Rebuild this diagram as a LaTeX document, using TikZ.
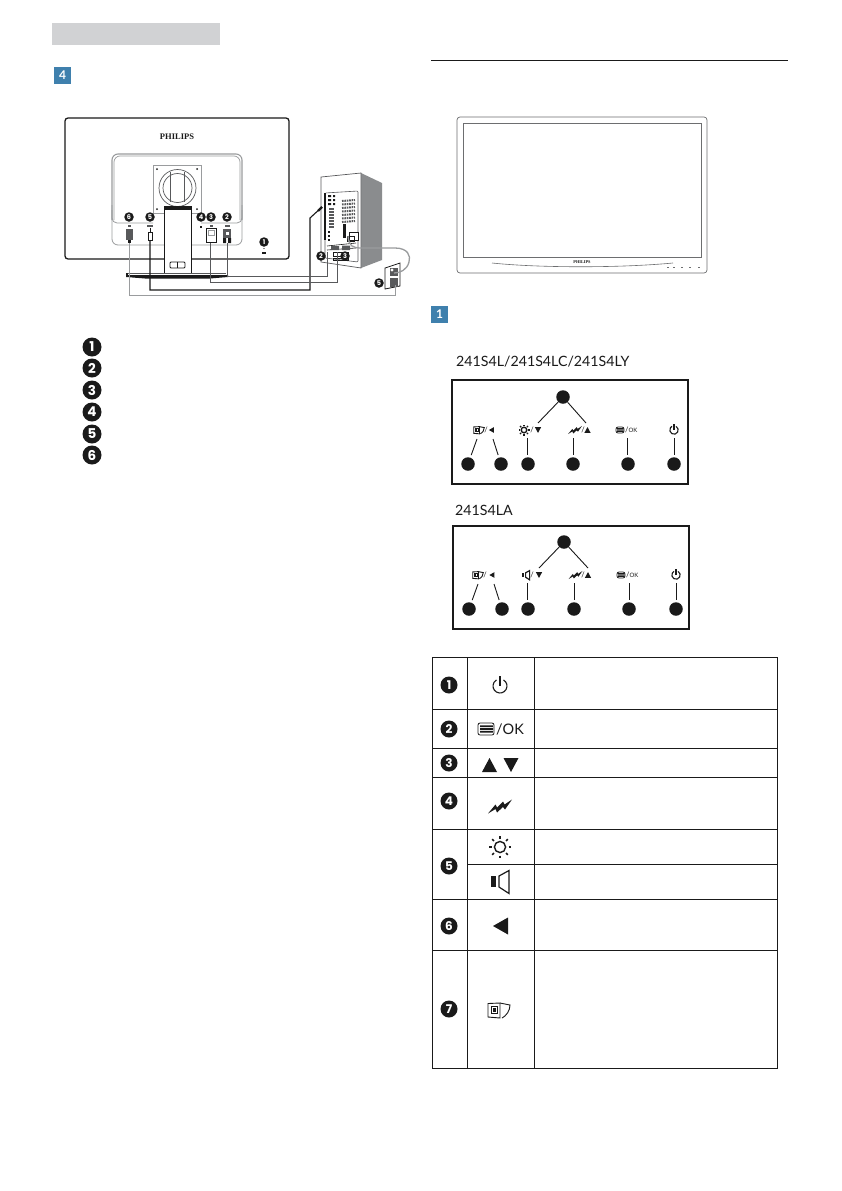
\documentclass[tikz,border=0pt]{standalone}
\usepackage{fontspec}
\setmainfont{Lato}
\newfontfamily\numf{Poppins}
\newfontfamily\logof{Liberation Serif}
\definecolor{ink}{HTML}{1A1A1A}
\definecolor{barg}{HTML}{D1D2D4}
\definecolor{blu}{HTML}{3F80AD}
\definecolor{side}{HTML}{8A8C8E}
\definecolor{pale}{HTML}{9A9C9E}
\definecolor{mid}{HTML}{58595B}
\definecolor{frame}{HTML}{6D6E70}
\tikzset{
 numdot/.style={circle,fill=ink,text=white,inner sep=0pt,minimum size=9.5pt,font=\numf\fontsize{6.5}{6.5}\selectfont\bfseries},
 numdotM/.style={numdot,minimum size=17pt,font=\numf\fontsize{12}{12}\selectfont\bfseries},
 numdotL/.style={numdot,minimum size=19pt,font=\numf\fontsize{13.5}{13.5}\selectfont\bfseries},
 blank/.style={circle,fill=ink,inner sep=0pt,minimum size=13.5pt},
 bluebox/.style={fill=blu,text=white,inner sep=0pt,minimum size=17pt,font=\fontsize{12}{12}\selectfont\bfseries},
 title/.style={anchor=west,inner sep=0pt,font=\fontsize{14.2}{16}\selectfont,text=ink},
 grid/.style={draw=ink,line width=.9pt},
 keybox/.style={draw=ink,line width=2.2pt},
 lead/.style={draw=ink,line width=.9pt},
 gline/.style={draw=pale,line width=.8pt},
 dline/.style={draw=ink,line width=.8pt},
 cable/.style={line width=1pt},
 smalltxt/.style={inner sep=0pt,font=\fontsize{7.5}{8}\selectfont,text=ink},
}
\newcommand{\icpower}[3]{\begin{scope}[shift={(#1,#2)},scale=#3]
 \draw[ink,line width=1.1pt] (-60:7) arc[start angle=-60,end angle=240,radius=7];
 \draw[ink,line width=1.3pt] (0,-10) -- (0,0);
\end{scope}}
\newcommand{\icmenu}[3]{\begin{scope}[shift={(#1,#2)},scale=#3]
 \draw[ink,line width=.8pt,rounded corners=2pt,fill=white] (-8,-6) rectangle (8,6);
 \fill[ink] (-6,-3.6) rectangle (7,-1.8) (-6,-.9) rectangle (7,.9) (-6,1.8) rectangle (7,3.6);
\end{scope}}
\newcommand{\icup}[3]{\fill[ink,shift={(#1,#2)},scale=#3] (0,-7) -- (7.5,7) -- (-7.5,7) -- cycle;}
\newcommand{\icdown}[3]{\fill[ink,shift={(#1,#2)},scale=#3] (0,7) -- (7.5,-7) -- (-7.5,-7) -- cycle;}
\newcommand{\icleft}[3]{\fill[ink,shift={(#1,#2)},scale=#3] (-8,0) -- (7,-8.5) -- (7,8.5) -- cycle;}
\newcommand{\icbolt}[3]{\fill[ink,shift={(#1,#2)},scale=#3] (-12,7) -- (-4.5,-2) -- (-3,1) -- (3,-5) -- (4.5,-2) -- (12,-7) -- (5,3) -- (3,.5) -- (-3,6) -- (-4.5,2.5) -- cycle;}
\newcommand{\icsun}[3]{\begin{scope}[shift={(#1,#2)},scale=#3]
 \draw[ink,line width=1.4pt] (0,0) circle[radius=5.6];
 \foreach \a in {0,45,...,315}{\draw[ink,line width=1.5pt] (\a:8.5) -- (\a:11);}
\end{scope}}
\newcommand{\icspeak}[3]{\begin{scope}[shift={(#1,#2)},scale=#3]
 \fill[ink] (-9,-5.5) rectangle (-4,5.5);
 \draw[ink,line width=1.2pt] (-1,-5.5) -- (9,-11) -- (9,12) -- (-1,5.5) -- cycle;
\end{scope}}
\newcommand{\icsmart}[3]{\begin{scope}[shift={(#1,#2)},scale=#3]
 \draw[ink,line width=.9pt] (-11,-6.5) -- (1,-7) -- (1,8) -- (-11,7) -- cycle;
 \draw[ink,line width=.8pt] (-8,-4) rectangle (-2,3);
 \fill[ink] (-6.5,-2.5) rectangle (-3.5,1.5);
 \draw[ink,line width=.9pt] (1,-7) -- (11,-5) .. controls (11,1) and (7,6) .. (3,8);
\end{scope}}
\begin{document}
\begin{tikzpicture}[x=1pt,y=-1pt]
\useasboundingbox (0,0) rectangle (842,1191);
\fill[white] (0,0) rectangle (842,1191);
% header
\fill[barg] (52,23) rectangle (220,45);
\node[bluebox] (sq4) at (62.5,75.5) {4};
\draw[ink,line width=.9pt] (431,60) -- (788,60);
% monitor back
\draw[ink,line width=1.3pt,rounded corners=3pt] (65,118) rectangle (289,259);
\node[inner sep=0pt,font=\logof\fontsize{8.5}{9}\selectfont\bfseries,text=ink] (brand) at (177,137) {PHILIPS};
\draw[pale,line width=1.1pt,rounded corners=6pt] (112,220) -- (112,154) -- (242,154) -- (242,220);
\draw[pale,line width=.7pt,rounded corners=6pt] (114,220) -- (114,156) -- (240,156) -- (240,220);
\draw[gline,rounded corners=6pt] (112,205) -- (112,245) -- (242,245) -- (242,205);
\draw[gline,rounded corners=5pt] (112,210) -- (112,223) -- (153,223);
\draw[gline,rounded corners=5pt] (242,210) -- (242,223) -- (201,223);
\draw[gline] (153,165) rectangle (201,213);
\foreach \p in {(157,169),(197,169),(157,209),(197,209)}{\fill[ink] \p circle[radius=1];}
\draw[mid,line width=.7pt] (177.5,188) circle[radius=18.5] (177.5,188) circle[radius=14.5];
\draw[mid,line width=.7pt] (170,172) -- (170,202) (184,172) -- (184,202);
\fill[white] (164,206) rectangle (191,273);
\draw[ink,line width=.9pt] (164,206) -- (164,273) (191,206) -- (191,273);
\fill[ink] (164,206) rectangle (191,209.5);
\draw[dline,rounded corners=1pt] (170,262) rectangle (185,268);
\draw[dline] (177.5,262) -- (177.5,268);
\draw[mid,line width=.7pt] (128,273.5) -- (226,273.5);
\fill[ink] (126,275) -- (228,275) -- (228,277) -- (210,278.5) -- (145,278.5) -- (126,277) -- cycle;
\fill[ink] (126,272.5) rectangle (128,277);
\node[numdot] (m6) at (129,217) {6};
\node[numdot] (m5) at (150,217) {5};
\node[numdot] (m4) at (201,217) {4};
\node[numdot] (m3) at (211,217) {3};
\node[numdot] (m2) at (227,217) {2};
\node[numdot] (m1) at (264,242) {1};
\fill[ink] (200,225.5) rectangle (202,227.5);
\fill[ink] (264,248.5) circle[radius=.7];
\draw[dline] (262.5,252) rectangle (265.5,253);
\foreach \x/\w in {129/1.5,150/3,211/1.5,227/2.5}{\fill[mid] (\x-\w,225) rectangle (\x+\w,226.5);}
% connectors on the monitor
\fill[mid] (126,229) rectangle (133,240);
\fill[ink] (128,240) rectangle (131,243);
\draw[dline,fill=white] (148,232) rectangle (152,240);
\draw[dline] (150,228) -- (150,232);
\draw[dline,fill=white] (206,228) rectangle (216,242);
\draw[pale,line width=.7pt] (208,230) rectangle (214,235);
\fill[mid] (223,229) rectangle (231,238);
\fill[ink] (223,238) rectangle (226,243) (228,238) rectangle (231,243);
\fill[white] (225.5,232) rectangle (228.5,235);
\coordinate (c6) at (129,243);
\coordinate (c5) at (150,240);
\coordinate (c3) at (210,243);
\coordinate (c2) at (227,243);
% PC
\fill[side] (361,173) -- (382,183) -- (382,260) -- (361,268) -- cycle;
\draw[mid,line width=.7pt,fill=white] (321,177) -- (361,173) -- (361,268) -- (321,262) -- cycle;
\draw[mid,line width=.6pt,rounded corners=1pt] (325,193) -- (358,191) -- (358,262) -- (325,258) -- cycle;
\draw[ink,line width=1.2pt] (325,193) -- (325,240);
\foreach \y in {195,199,203}{\fill[ink] (328,\y) rectangle (331,\y+2) (333,\y) rectangle (335,\y+2);}
\foreach \y in {208,211,...,226}{\fill[mid] (329,\y) rectangle (334,\y+1.5);}
\foreach \y in {231,235,239}{\fill[ink] (328,\y) rectangle (330,\y+2);}
\foreach \y in {201,204.5,...,222}{\draw[mid,line width=2pt,dash pattern=on 1.6pt off .8pt] (342,\y) -- (355,\y-1);}
\fill[ink] (343,224) rectangle (346,238);
\draw[ink,line width=.8pt,fill=white] (349,232) rectangle (358,240);
\draw[ink,line width=.6pt] (347,236) rectangle (354,241);
\draw[ink,line width=.6pt] (327,246) -- (356,243) (327,250) -- (356,248);
\fill[mid] (331,246) rectangle (339,250) (342,245.5) rectangle (350,250);
\draw[ink,line width=.6pt] (333,252) rectangle (348,256) (333,258) rectangle (348,260);
\node[numdot] (p2) at (321,256) {2};
\node[numdot] (p3) at (345,256) {3};
\coordinate (h2) at (327,252);
\coordinate (h3) at (337,252);
\coordinate (h5) at (322,207);
% outlet
\draw[ink,line width=.8pt,fill=white] (385,268) -- (400,263) -- (400,286) -- (385,289) -- cycle;
\fill[mid] (390,268) rectangle (398,276);
\fill[mid] (390,278) rectangle (398,287);
\fill[white] (392,270) circle[radius=1.6];
\node[numdot] (o5) at (379,283) {5};
\coordinate (o1) at (395,285);
\coordinate (o2) at (394,273);
\coordinate (c9) at (348,236);
% cables
\draw[pale,cable] (c6) -- (129,295) -- (395,295) -- (o1);
\draw[ink,cable,line width=1.1pt] (c5) -- (150,290) -- (310,290) -- (310,218) -- (h5);
\draw[ink,line width=2.2pt] (318,211) -- (322,207);
\draw[mid,cable] (c3) -- (210,282) -- (337,282) -- (h3);
\draw[mid,cable] (c2) -- (227,276) -- (327,276) -- (h2);
\draw[pale,line width=1.3pt] (c9) .. controls (349,246) and (352,248) .. (362,248) -- (395,248) .. controls (408,248) and (411,256) .. (409,262) .. controls (407,270) and (400,273) .. (o2);
% monitor front
\draw[frame,line width=.7pt,rounded corners=3pt] (457,117) rectangle (707,273);
\draw[frame,line width=.9pt] (463,123) rectangle (701,257);
\node[inner sep=0pt,font=\logof\fontsize{4.3}{5}\selectfont\bfseries,text=ink] (brand2) at (582,262) {PHILIPS};
\draw[frame,line width=.6pt] (492,263) .. controls (540,268) and (620,268) .. (673,263);
\foreach \x in {667,673,681,689,698}{\fill[frame] (\x,266.5) rectangle (\x+2,267.5);}
% key panel titles
\node[bluebox] (sq1) at (439.5,314) {1};
\node[title] (t1) at (456,362) {241S4L/241S4LC/241S4LY};
\node[title] (t2) at (455,510) {241S4LA};
% panel 1
\draw[keybox] (452,380) rectangle (688,484);
\node[blank] (a0) at (563,397) {};
\node[blank] (a1) at (468,464) {};
\node[blank] (a2) at (501,464) {};
\node[blank] (a3) at (528,464) {};
\node[blank] (a4) at (573,464) {};
\node[blank] (a5) at (628,464) {};
\node[blank] (a6) at (674,464) {};
\coordinate (ae1) at (538,423);
\coordinate (ae2) at (586,423);
\coordinate (ae3) at (477,439);
\coordinate (ae4) at (493,439);
\coordinate (ae5) at (527,438);
\coordinate (ae6) at (573,438);
\coordinate (ae7) at (627,438);
\coordinate (ae8) at (674,438);
\draw[lead] (a0) -- (ae1);
\draw[lead] (a0) -- (ae2);
\draw[lead,shorten >=2.5pt] (ae3) -- (a1);
\draw[lead,shorten >=2.5pt] (ae4) -- (a2);
\draw[lead,shorten >=2.5pt] (ae5) -- (527,457);
\draw[lead,shorten >=2.5pt] (ae6) -- (573,457);
\draw[lead,shorten >=2.5pt] (ae7) -- (627,457);
\draw[lead,shorten >=2.5pt] (ae8) -- (674,457);
\icsmart{479}{430}{.48}
\node[smalltxt] (as1) at (486,430) {/};
\icleft{491.5}{430}{.33}
\icsun{524}{430}{.5}
\node[smalltxt] (as2) at (532,430) {/};
\icdown{538}{430}{.42}
\icbolt{575}{430}{.58}
\node[smalltxt] (as3) at (583,430) {/};
\icup{587.5}{430}{.42}
\icmenu{620}{430}{.5}
\node[smalltxt,anchor=west] (as4) at (625,430) {/\fontsize{6}{6}\selectfont OK};
\icpower{674}{430}{.6}
% panel 2
\draw[keybox] (453,526) rectangle (689,629);
\node[blank] (b0) at (564,542) {};
\node[blank] (b1) at (469,609) {};
\node[blank] (b2) at (502,609) {};
\node[blank] (b3) at (528,609) {};
\node[blank] (b4) at (574,609) {};
\node[blank] (b5) at (629,609) {};
\node[blank] (b6) at (676,609) {};
\coordinate (be1) at (539,568);
\coordinate (be2) at (588,568);
\coordinate (be3) at (478,584);
\coordinate (be4) at (494,584);
\coordinate (be5) at (527,583);
\coordinate (be6) at (574,583);
\coordinate (be7) at (629,583);
\coordinate (be8) at (676,583);
\draw[lead] (b0) -- (be1);
\draw[lead] (b0) -- (be2);
\draw[lead,shorten >=2.5pt] (be3) -- (b1);
\draw[lead,shorten >=2.5pt] (be4) -- (b2);
\draw[lead,shorten >=2.5pt] (be5) -- (527,602);
\draw[lead,shorten >=2.5pt] (be6) -- (574,602);
\draw[lead,shorten >=2.5pt] (be7) -- (629,602);
\draw[lead,shorten >=2.5pt] (be8) -- (676,602);
\icsmart{478}{575}{.48}
\node[smalltxt] (bs1) at (485,575) {/};
\icleft{492}{575}{.33}
\icspeak{526}{575}{.4}
\node[smalltxt] (bs2) at (532,575) {/};
\icdown{539}{575}{.42}
\icbolt{575.5}{575}{.58}
\node[smalltxt] (bs3) at (583,575) {/};
\icup{588}{575}{.42}
\icmenu{621}{575}{.5}
\node[smalltxt,anchor=west] (bs4) at (626,575) {/\fontsize{6}{6}\selectfont OK};
\icpower{676}{575}{.6}
% left list
\node[numdotL] (l1) at (92,347) {1};
\node[numdotL] (l2) at (92,368) {2};
\node[numdotL] (l3) at (92,390) {3};
\node[numdotL] (l4) at (92,412) {4};
\node[numdotL] (l5) at (92,434) {5};
\node[numdotL] (l6) at (92,455) {6};
% table
\draw[grid] (432,657) rectangle (777,1068);
\draw[grid] (467,657) -- (467,1068) (534,657) -- (534,1068);
\draw[grid] (432,709) -- (777,709) (432,748) -- (777,748) (432,777) -- (777,777) (432,829) -- (777,829);
\draw[grid] (467,864) -- (777,864);
\draw[grid] (432,899) -- (777,899) (432,950) -- (777,950);
\node[numdotM] (r1) at (449,685) {1};
\node[numdotM] (r2) at (449,729) {2};
\node[numdotM] (r3) at (449,763) {3};
\node[numdotM] (r4) at (449,801) {4};
\node[numdotM] (r5) at (449,866) {5};
\node[numdotM] (r6) at (449,926) {6};
\node[numdotM] (r7) at (449,1009) {7};
\icpower{500}{686}{1}
\icmenu{486}{729}{1}
\node[inner sep=0pt,anchor=west,font=\fontsize{14.5}{16}\selectfont,text=ink] (okt) at (496,729) {/OK};
\icup{489.5}{765}{1}
\icdown{511}{765}{1}
\icbolt{500}{806.5}{1}
\icsun{500}{847}{1}
\icspeak{500}{881.5}{1}
\icleft{501}{926}{1}
\icsmart{499}{1010}{1}
\end{tikzpicture}
\end{document}
